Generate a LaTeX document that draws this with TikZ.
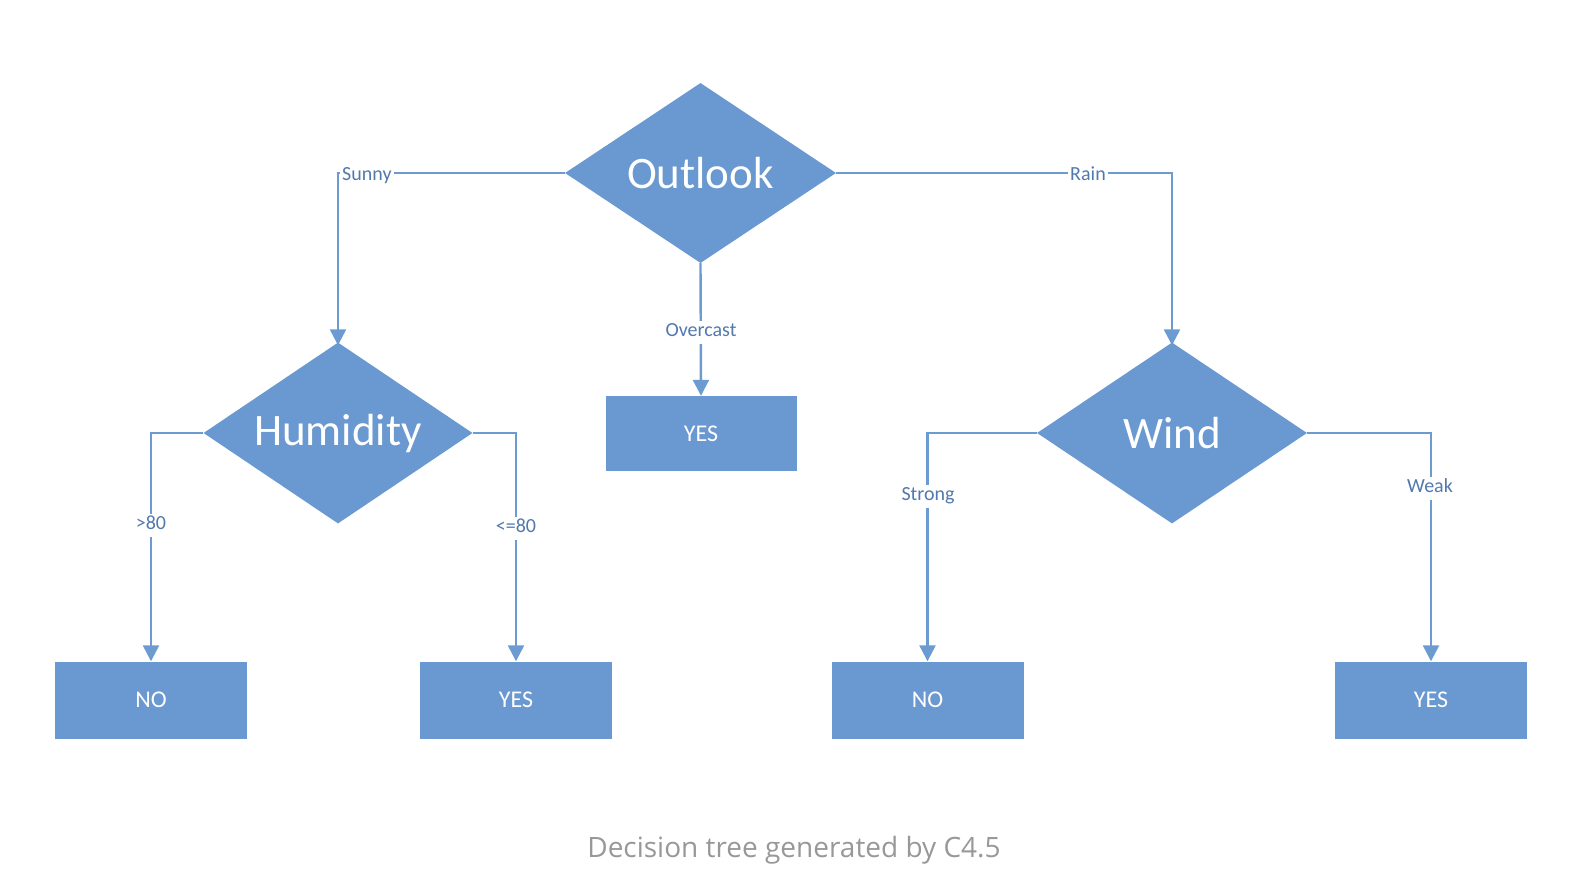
\documentclass[tikz,border=0pt]{standalone}
\usepackage{fontspec}
\setmainfont{Carlito}
\newfontfamily\capfont{Open Sans}
\usetikzlibrary{shapes.geometric,arrows.meta}
\definecolor{boxblue}{HTML}{6A98D0}
\definecolor{lineblue}{HTML}{6C9BD2}
\definecolor{labblue}{HTML}{5279AE}
\definecolor{capgray}{HTML}{989898}
\tikzset{
  decision/.style={diamond, fill=boxblue, inner sep=0pt},
  dtext/.style={text=white, font=\fontsize{45}{50}\selectfont, inner sep=0pt},
  leafbox/.style={rectangle, fill=boxblue, inner sep=0pt, text=white,
    minimum width=192pt, minimum height=77pt, font=\fontsize{24}{28}\selectfont},
  conn/.style={draw=lineblue, line width=2.4pt,
    -{Triangle[width=16pt,length=16pt]}},
  edgelab/.style={fill=white, inner sep=2pt, text=labblue,
    text height=14pt, text depth=5pt,
    font=\fontsize{20}{24}\selectfont}
}
\begin{document}
\begin{tikzpicture}[x=1pt,y=-1pt]
\useasboundingbox (0,0) rectangle (1576,896);
\node[decision, minimum width=271pt, minimum height=180pt,
  label={[dtext]center:Outlook}] (outlook) at (700.5,173) {};
\node[decision, minimum width=269pt, minimum height=181pt,
  label={[dtext]center:Humidity}] (hum) at (338,433) {};
\node[decision, minimum width=270pt, minimum height=181pt,
  label={[dtext]center:Wind}] (wind) at (1172,433) {};
\node[leafbox, minimum width=191pt, minimum height=75pt] (yesmid) at (701,433.5) {YES};
\node[leafbox] (no1) at (151,700) {NO};
\node[leafbox] (yes1) at (516,700) {YES};
\node[leafbox] (no2) at (927.5,700) {NO};
\node[leafbox] (yes2) at (1431,700) {YES};

\draw[conn] (outlook.west) -| ([yshift=-3pt]hum.north);
\draw[conn] (outlook.east) -| ([yshift=-3pt]wind.north);
\draw[conn] (outlook.south) -- (yesmid.north);
\draw[conn] (hum.west) -| (no1.north);
\draw[conn] (hum.east) -| (yes1.north);
\draw[conn] (wind.west) -| (no2.north);
\draw[conn] (wind.east) -| (yes2.north);

\node[edgelab, anchor=west] (lsunny) at (340,176) {Sunny};
\node[edgelab] (lrain) at (1088,176) {Rain};
\node[edgelab] (lover) at (701,332) {Overcast};
\node[edgelab] (lgt) at (151,525) {>80};
\node[edgelab] (lle) at (516,528) {<=80};
\node[edgelab] (lstrong) at (928,496) {Strong};
\node[edgelab] (lweak) at (1430,488) {Weak};

\node[text=capgray, font=\capfont\fontsize{28}{32}\selectfont] (cap) at (794,850) {Decision tree generated by C4.5};
\end{tikzpicture}
\end{document}
